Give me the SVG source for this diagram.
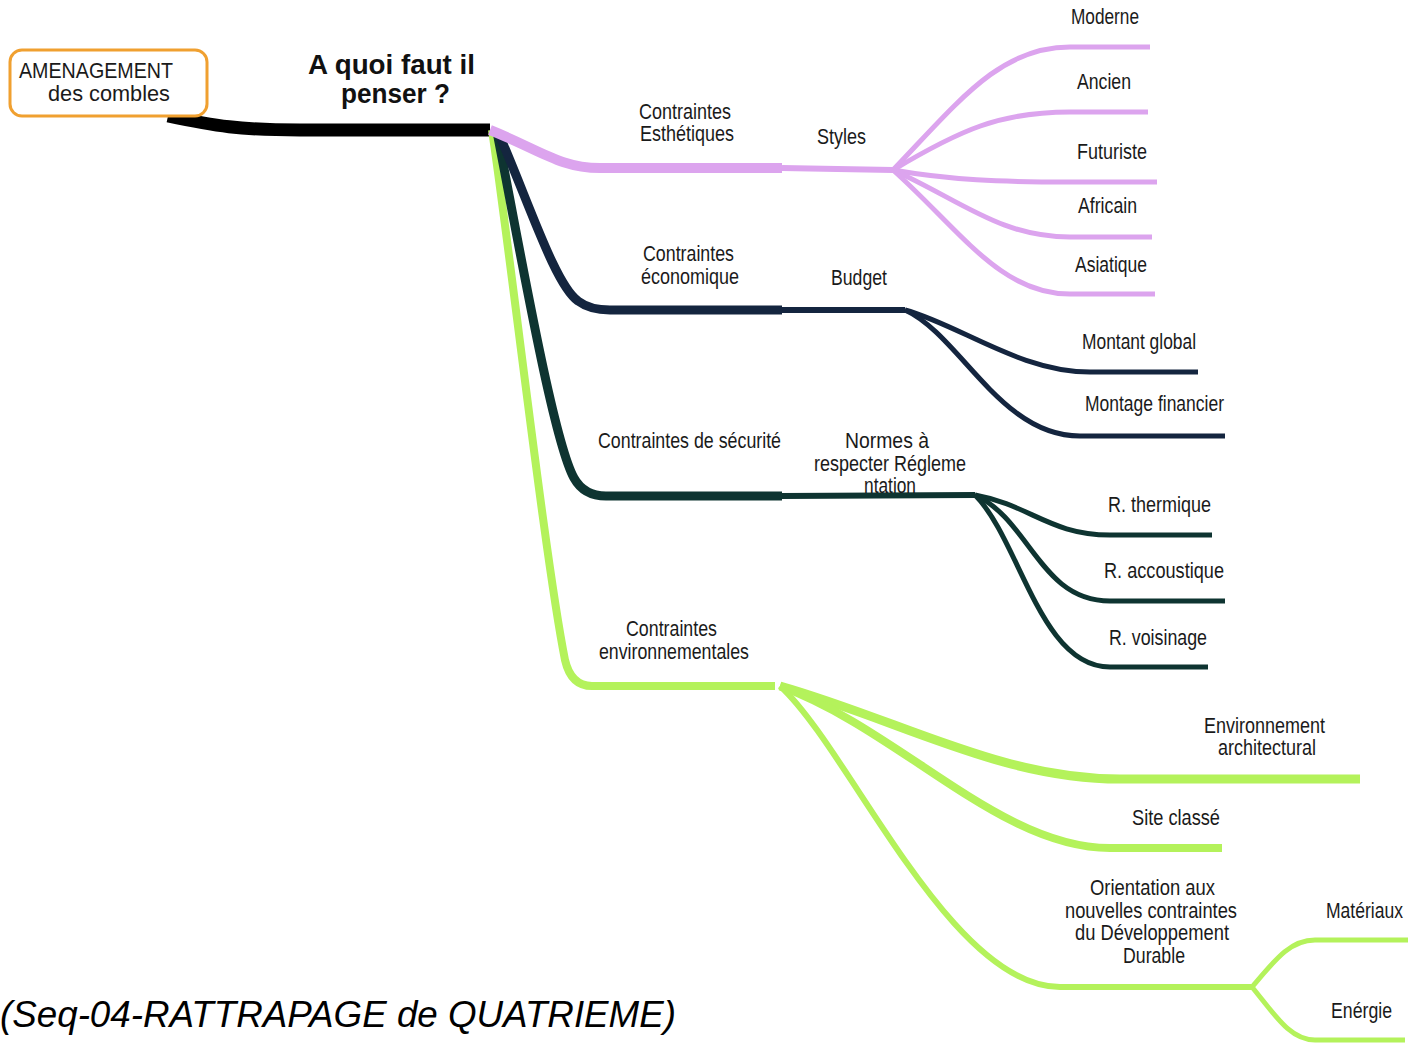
<svg xmlns="http://www.w3.org/2000/svg" width="1415" height="1044" viewBox="0 0 1415 1044">
<style>
.lbl{font-family:"Liberation Sans",Arial,sans-serif;font-size:22px;fill:#1a1a1a}
.ttl{font-family:"Liberation Sans",Arial,sans-serif;font-size:28px;font-weight:bold;fill:#111}
.cap{font-family:"Liberation Sans",Arial,sans-serif;font-size:37px;font-style:italic;fill:#000}
.b{fill:none;stroke-linecap:butt;stroke-linejoin:round}
.pink{stroke:#DCA4EE}
.navy{stroke:#14253F}
.dgreen{stroke:#0E3431}
.lime{stroke:#B4F25B}
</style>
<rect width="1415" height="1044" fill="#fff"/>
<g id="connectors">
  <path class="b" stroke="#000" stroke-width="13" d="M168,116 C215,126 240,130 300,130 L490,130"/>
  <path class="b lime" stroke-width="8" d="M492,130 C510,250 545,560 565,660 Q571,686 592,686 L775,686"/>
  <path class="b dgreen" stroke-width="9" d="M497,132 C520,250 553,440 574,478 Q584,496 606,496 L782,496"/>
  <path class="b dgreen" stroke-width="6" d="M782,496 L975,495"/>
  <path class="b navy" stroke-width="9" d="M498,132 C528,200 555,285 578,301 Q590,310 610,310 L782,310"/>
  <path class="b navy" stroke-width="6" d="M782,310 L905,310"/>
  <path class="b pink" stroke-width="10" d="M490,130 C540,150 560,168 600,168 L782,168"/>
  <path class="b pink" stroke-width="6" d="M782,168 L893,170"/>
  <path class="b pink" stroke-width="5" d="M893,170 C960,100 1000,47 1070,47 L1150,47"/>
  <path class="b pink" stroke-width="5" d="M893,170 C960,130 1000,112 1070,112 L1148,112"/>
  <path class="b pink" stroke-width="5" d="M893,170 C950,180 1000,182 1070,182 L1157,182"/>
  <path class="b pink" stroke-width="5" d="M893,170 C960,200 1000,237 1070,237 L1152,237"/>
  <path class="b pink" stroke-width="5" d="M893,170 C960,230 1000,294 1070,294 L1155,294"/>
  <path class="b navy" stroke-width="5" d="M905,310 C960,325 1020,372 1090,372 L1198,372"/>
  <path class="b navy" stroke-width="5" d="M905,310 C960,335 1000,436 1080,436 L1225,436"/>
  <path class="b dgreen" stroke-width="5" d="M975,495 C1030,505 1050,535 1110,535 L1212,535"/>
  <path class="b dgreen" stroke-width="5" d="M975,495 C1030,520 1040,601 1110,601 L1225,601"/>
  <path class="b dgreen" stroke-width="5" d="M975,495 C1020,540 1040,667 1110,667 L1208,667"/>
  <path class="b lime" stroke-width="9" d="M780,686 C900,720 1000,779 1120,779 L1360,779"/>
  <path class="b lime" stroke-width="8" d="M780,686 C900,730 1000,848 1110,848 L1222,848"/>
  <path class="b lime" stroke-width="6" d="M780,686 C850,750 950,987 1060,987 L1252,987"/>
  <path class="b lime" stroke-width="5" d="M1252,987 C1275,960 1290,940 1315,940 L1408,940"/>
  <path class="b lime" stroke-width="5" d="M1252,987 C1275,1015 1290,1040 1315,1040 L1405,1040"/>
</g>
<g id="root">
  <rect x="10" y="50" width="197" height="66" rx="12" fill="#fff" stroke="#F0A030" stroke-width="3"/>
  <text class="lbl" x="19" y="78" textLength="154" lengthAdjust="spacingAndGlyphs">AMENAGEMENT</text>
  <text class="lbl" x="48" y="101" textLength="122" lengthAdjust="spacingAndGlyphs">des  combles</text>
</g>
<g id="question">
  <text class="ttl" x="308" y="74" textLength="167" lengthAdjust="spacingAndGlyphs">A  quoi  faut  il</text>
  <text class="ttl" x="341" y="103" textLength="109" lengthAdjust="spacingAndGlyphs">penser  ?</text>
</g>
<g id="esthetiques">
  <text class="lbl" x="639" y="119" textLength="92" lengthAdjust="spacingAndGlyphs">Contraintes</text>
  <text class="lbl" x="640" y="141" textLength="94" lengthAdjust="spacingAndGlyphs">Esthétiques</text>
</g>
<g id="styles"><text class="lbl" x="817" y="144" textLength="49" lengthAdjust="spacingAndGlyphs">Styles</text></g>
<g id="moderne"><text class="lbl" x="1071" y="24" textLength="68" lengthAdjust="spacingAndGlyphs">Moderne</text></g>
<g id="ancien"><text class="lbl" x="1077" y="89" textLength="54" lengthAdjust="spacingAndGlyphs">Ancien</text></g>
<g id="futuriste"><text class="lbl" x="1077" y="159" textLength="70" lengthAdjust="spacingAndGlyphs">Futuriste</text></g>
<g id="africain"><text class="lbl" x="1078" y="213" textLength="59" lengthAdjust="spacingAndGlyphs">Africain</text></g>
<g id="asiatique"><text class="lbl" x="1075" y="272" textLength="72" lengthAdjust="spacingAndGlyphs">Asiatique</text></g>
<g id="economique">
  <text class="lbl" x="643" y="261" textLength="91" lengthAdjust="spacingAndGlyphs">Contraintes</text>
  <text class="lbl" x="641" y="284" textLength="98" lengthAdjust="spacingAndGlyphs">économique</text>
</g>
<g id="budget"><text class="lbl" x="831" y="285" textLength="56" lengthAdjust="spacingAndGlyphs">Budget</text></g>
<g id="montant"><text class="lbl" x="1082" y="349" textLength="114" lengthAdjust="spacingAndGlyphs">Montant global</text></g>
<g id="montage"><text class="lbl" x="1085" y="411" textLength="139" lengthAdjust="spacingAndGlyphs">Montage financier</text></g>
<g id="securite"><text class="lbl" x="598" y="448" textLength="183" lengthAdjust="spacingAndGlyphs">Contraintes de sécurité</text></g>
<g id="normes">
  <text class="lbl" x="845" y="448" textLength="84" lengthAdjust="spacingAndGlyphs">Normes  à</text>
  <text class="lbl" x="814" y="471" textLength="152" lengthAdjust="spacingAndGlyphs">respecter Régleme</text>
  <text class="lbl" x="864" y="493" textLength="52" lengthAdjust="spacingAndGlyphs">ntation</text>
</g>
<g id="thermique"><text class="lbl" x="1108" y="512" textLength="103" lengthAdjust="spacingAndGlyphs">R. thermique</text></g>
<g id="accoustique"><text class="lbl" x="1104" y="578" textLength="120" lengthAdjust="spacingAndGlyphs">R. accoustique</text></g>
<g id="voisinage"><text class="lbl" x="1109" y="645" textLength="98" lengthAdjust="spacingAndGlyphs">R. voisinage</text></g>
<g id="environnementales">
  <text class="lbl" x="626" y="636" textLength="91" lengthAdjust="spacingAndGlyphs">Contraintes</text>
  <text class="lbl" x="599" y="659" textLength="150" lengthAdjust="spacingAndGlyphs">environnementales</text>
</g>
<g id="architectural">
  <text class="lbl" x="1204" y="733" textLength="121" lengthAdjust="spacingAndGlyphs">Environnement</text>
  <text class="lbl" x="1218" y="755" textLength="98" lengthAdjust="spacingAndGlyphs">architectural</text>
</g>
<g id="site"><text class="lbl" x="1132" y="825" textLength="88" lengthAdjust="spacingAndGlyphs">Site classé</text></g>
<g id="orientation">
  <text class="lbl" x="1090" y="895" textLength="125" lengthAdjust="spacingAndGlyphs">Orientation  aux</text>
  <text class="lbl" x="1065" y="918" textLength="172" lengthAdjust="spacingAndGlyphs">nouvelles  contraintes</text>
  <text class="lbl" x="1075" y="940" textLength="154" lengthAdjust="spacingAndGlyphs">du  Développement</text>
  <text class="lbl" x="1123" y="963" textLength="62" lengthAdjust="spacingAndGlyphs">Durable</text>
</g>
<g id="materiaux"><text class="lbl" x="1326" y="918" textLength="77" lengthAdjust="spacingAndGlyphs">Matériaux</text></g>
<g id="energie"><text class="lbl" x="1331" y="1018" textLength="61" lengthAdjust="spacingAndGlyphs">Enérgie</text></g>
<g id="caption"><text class="cap" x="0" y="1027" textLength="676" lengthAdjust="spacingAndGlyphs">(Seq-04-RATTRAPAGE de QUATRIEME)</text></g>
</svg>
